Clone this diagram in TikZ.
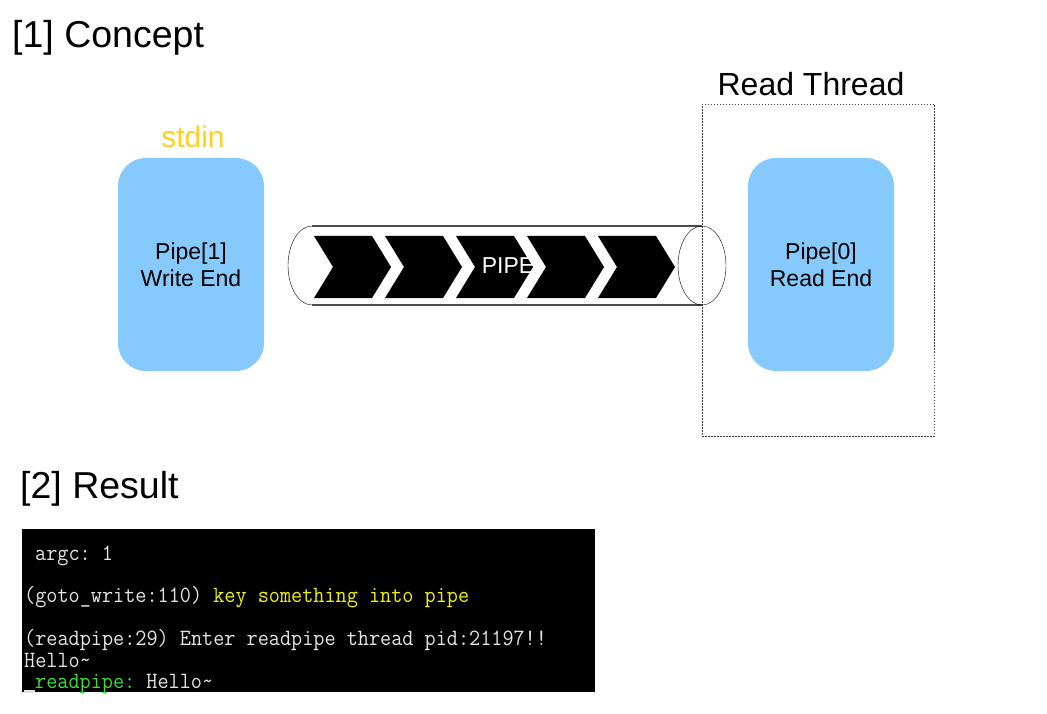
\documentclass[tikz,border=0pt]{standalone}
\usepackage{fontspec}
\setmainfont{Liberation Sans}
\definecolor{boxblue}{HTML}{85C9FD}
\definecolor{stdgold}{HTML}{FFD020}
\definecolor{termgray}{HTML}{E4E4E4}
\definecolor{termyellow}{HTML}{F2F200}
\definecolor{termgreen}{HTML}{3CDC3C}
\newcommand{\tallline}[1]{\scalebox{1}[1.08]{#1}}
\frenchspacing
\begin{document}
\begin{tikzpicture}[x=1pt,y=-1pt,
      endbox/.style={fill=boxblue,rounded corners=28pt,minimum width=146pt,
        minimum height=213pt,align=center,font=\fontsize{23}{27}\selectfont},
      title/.style={anchor=base west,inner sep=0pt,font=\fontsize{37.5}{40}\selectfont},
      termline/.style={anchor=base west,inner sep=0pt,text=termgray,
        font=\ttfamily\fontsize{21.6}{24}\selectfont}]
  \useasboundingbox (0,0) rectangle (1047,714);
  % headings
  \node[title] (concept) at (12,48) {[1] Concept};
  \node[title] (result) at (20,498) {[2] Result};
  % the pipe as a tube
  \draw[gray!60!black,line width=1.4pt] (312,226) -- (702,226);
  \draw[gray!60!black,line width=1.4pt] (312,305) -- (702,305);
  \draw (312,226) arc[start angle=90,end angle=270,x radius=24pt,y radius=39.5pt];
  \foreach \i in {0,...,4}
    \fill ({314+71*\i},236) -- ++(58,0) -- ++(19,31) -- ++(-19,31)
      -- ++(-58,0) -- ++(19,-31) -- cycle;
  \draw (702,265.5) ellipse[x radius=24pt,y radius=39.5pt];
  \node[text=white,font=\fontsize{23}{27}\selectfont] (pipe) at (508,266) {PIPE};
  % both ends
  \node[endbox] (writeend) at (191,264.5) {Pipe[1]\\Write End};
  \node[text=stdgold,font=\fontsize{30}{34}\selectfont,anchor=base] (stdin)
    at (193,148) {stdin};
  \node[draw=black!75,dash pattern=on 1.5pt off 1.5pt,minimum width=232pt,
    minimum height=332pt,inner sep=0pt] (thread) at (818,270) {};
  \node[font=\fontsize{32}{36}\selectfont,anchor=base] (threadname)
    at (811,96) {Read Thread};
  \node[endbox] (readend) at (821,264.5) {Pipe[0]\\Read End};
  % console output
  \node[fill=black,minimum width=573pt,minimum height=163pt,inner sep=0pt]
    (terminal) at (308.5,610.5) {};
  \node[termline] (argc) at (35,560) {\tallline{argc: 1}};
  \node[termline] (gotowrite) at (24,602)
    {\tallline{(goto\_write:110) \textcolor{termyellow}{key something into pipe}}};
  \node[termline] (readpipe) at (24,645)
    {\tallline{(readpipe:29) Enter readpipe thread pid:21197!!}};
  \node[termline] (hello) at (24,667) {\tallline{Hello\textasciitilde}};
  \node[termline] (answer) at (35,688)
    {\tallline{\textcolor{termgreen}{readpipe:} Hello\textasciitilde}};
  \fill[termgray] (24,690) rectangle (35,693);
\end{tikzpicture}
\end{document}
